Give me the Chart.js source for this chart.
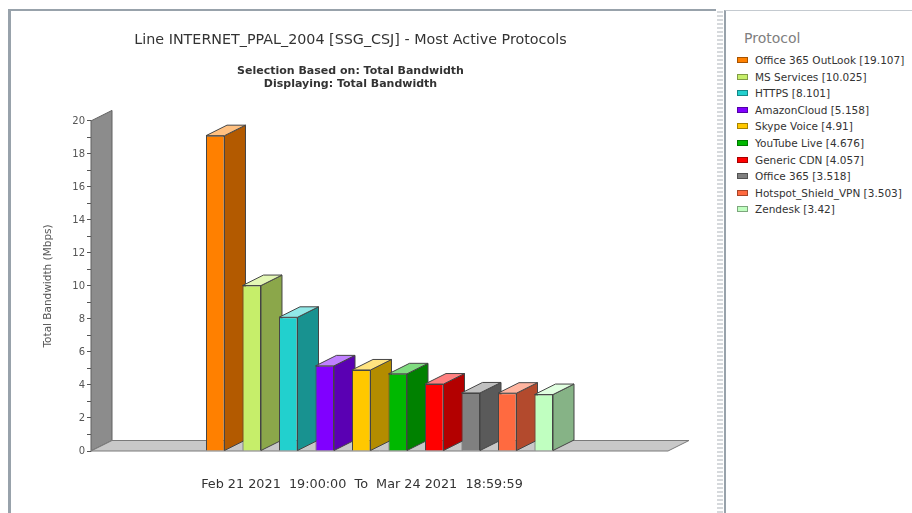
<!DOCTYPE html>
<html>
<head>
<meta charset="utf-8">
<title>Most Active Protocols</title>
<script src="https://cdn.jsdelivr.net/npm/chart.js@4.4.0/dist/chart.umd.min.js"></script>
<style>
    html, body { margin: 0; padding: 0; background: #fff; width: 912px; height: 513px; overflow: hidden; }
    body { position: relative; font-family: "DejaVu Sans", sans-serif; }
    #leftFrame { position: absolute; left: 8px; top: 9px; width: 705px; height: 504px; border-left: 3px solid #98a2ab; border-top: 2px solid #98a2ab; }
    #splitter { position: absolute; left: 717px; top: 10px; width: 6px; height: 503px;
        background-image: repeating-linear-gradient(0deg, #d6d9dc 0 2px, #fff 2px 4px); }
    #rightFrame { position: absolute; left: 724px; top: 10px; width: 188px; height: 503px; border-left: 2px solid #98a2ab; border-top: 1px solid #c4cad0; }
    #chartBox { position: absolute; left: 0; top: 0; width: 716px; height: 513px; }
    #dateRange { position: absolute; left: 0; width: 724px; top: 476px; text-align: center; white-space: pre;
        font: 12.8px/15px "DejaVu Sans", sans-serif; color: #333; }
    #legendTitle { position: absolute; left: 744px; top: 30px; font: 14px/16px "DejaVu Sans", sans-serif; color: #808080; }
    .lg-item { position: absolute; left: 737px; height: 14px; font: 10.5px/14px "DejaVu Sans", sans-serif; color: #333; white-space: nowrap; }
    .lg-sw { position: absolute; left: 0; top: 4px; width: 9px; height: 4px; border: 1px solid rgba(0,0,0,0.35); }
    .lg-tx { position: absolute; left: 18px; top: 0; }
</style>
</head>
<body>
<div id="leftFrame"></div>
<div id="splitter"></div>
<div id="rightFrame"></div>
<div id="chartBox"><canvas id="protoChart" width="716" height="513"></canvas></div>
<div id="dateRange">Feb 21 2021  19:00:00  To  Mar 24 2021  18:59:59</div>
<div id="legendTitle">Protocol</div>
<div id="legend"></div>

<script>
// ---------- Data ----------
var protocols = ["Office 365 OutLook", "MS Services", "HTTPS", "AmazonCloud", "Skype Voice",
                 "YouTube Live", "Generic CDN", "Office 365", "Hotspot_Shield_VPN", "Zendesk"];
var bandwidth = [19.107, 10.025, 8.101, 5.158, 4.91, 4.676, 4.057, 3.518, 3.503, 3.42];
var barColors = ["#ff8000", "#c6ee6a", "#22d0ce", "#8000ff", "#ffc800",
                 "#00b800", "#ff0000", "#808080", "#ff6a40", "#c0ffc0"];
var yTicks = [0, 2, 4, 6, 8, 10, 12, 14, 16, 18, 20];

(function () {
    "use strict";

    // ---------- Helpers for the 3D faces ----------
    function hexRgb(h) {
        return [parseInt(h.substr(1, 2), 16), parseInt(h.substr(3, 2), 16), parseInt(h.substr(5, 2), 16)];
    }
    function darker(h) {
        var c = hexRgb(h);
        return "rgb(" + Math.round(c[0] * 0.7) + "," + Math.round(c[1] * 0.7) + "," + Math.round(c[2] * 0.7) + ")";
    }
    function lighter(h) {
        var c = hexRgb(h);
        return "rgb(" + Math.round((c[0] + 255) / 2) + "," + Math.round((c[1] + 255) / 2) + "," + Math.round((c[2] + 255) / 2) + ")";
    }
    function poly(ctx, pts, fill, stroke) {
        ctx.beginPath();
        ctx.moveTo(pts[0][0], pts[0][1]);
        for (var i = 1; i < pts.length; i++) ctx.lineTo(pts[i][0], pts[i][1]);
        ctx.closePath();
        ctx.fillStyle = fill;
        ctx.fill();
        ctx.strokeStyle = stroke;
        ctx.lineWidth = 1;
        ctx.stroke();
    }

    var DX = 21, DY = 10.5;   // depth of the 3D effect
    var EDGE = "#454545";

    var bar3d = {
        id: "bar3d",
        beforeDatasetsDraw: function (chart) {
            var ctx = chart.ctx, a = chart.chartArea;
            ctx.save();
            // back wall + floor
            poly(ctx, [[a.left, a.bottom], [a.left, a.top], [a.left + DX, a.top - DY], [a.left + DX, a.bottom - DY]], "#8c8c8c", "#606060");
            poly(ctx, [[a.left, a.bottom], [a.right, a.bottom], [a.right + DX, a.bottom - DY], [a.left + DX, a.bottom - DY]], "#c8c8c8", "#7a7a7a");
            // side and top of each bar, front faces are drawn by Chart.js afterwards
            chart.data.datasets.forEach(function (ds, i) {
                var meta = chart.getDatasetMeta(i);
                meta.data.forEach(function (bar) {
                    var p = bar.getProps(["x", "y", "base", "width"], true);
                    var l = p.x - p.width / 2, r = p.x + p.width / 2;
                    poly(ctx, [[r, p.base], [r, p.y], [r + DX, p.y - DY], [r + DX, p.base - DY]], darker(ds.backgroundColor), EDGE);
                    poly(ctx, [[l, p.y], [r, p.y], [r + DX, p.y - DY], [l + DX, p.y - DY]], lighter(ds.backgroundColor), EDGE);
                });
            });
            ctx.restore();
        }
    };

    var datasets = protocols.map(function (name, i) {
        return {
            label: name,
            data: [bandwidth[i]],
            backgroundColor: barColors[i],
            borderColor: EDGE,
            borderWidth: 1,
            categoryPercentage: 0.6326,
            barPercentage: 0.507
        };
    });

    new Chart(document.getElementById("protoChart"), {
        type: "bar",
        data: { labels: [""], datasets: datasets },
        plugins: [bar3d],
        options: {
            responsive: false,
            animation: false,
            layout: { padding: { left: 33, right: 48, top: 0, bottom: 0 } },
            plugins: {
                legend: { display: false },
                tooltip: { enabled: false },
                title: {
                    display: true,
                    text: "Line INTERNET_PPAL_2004 [SSG_CSJ] - Most Active Protocols",
                    color: "#333",
                    font: { family: "DejaVu Sans", size: 14.3, weight: "normal", lineHeight: 1.2 },
                    padding: { top: 31.4, bottom: 15.9 }
                },
                subtitle: {
                    display: true,
                    text: ["Selection Based on: Total Bandwidth", "Displaying: Total Bandwidth"],
                    color: "#333",
                    font: { family: "DejaVu Sans", size: 11, weight: "bold", lineHeight: 1.18 },
                    padding: { top: 0, bottom: 30.5 }
                }
            },
            scales: {
                x: {
                    display: true,
                    ticks: { display: false },
                    grid: { display: false, drawTicks: false },
                    border: { display: false },
                    afterFit: function (s) { s.height = 62; }
                },
                y: {
                    min: yTicks[0],
                    max: yTicks[yTicks.length - 1],
                    afterFit: function (s) { s.width = 58; },
                    ticks: {
                        stepSize: 1,
                        autoSkip: false,
                        padding: 2,
                        color: "#555",
                        font: { family: "DejaVu Sans", size: 10 },
                        callback: function (v) { return yTicks.indexOf(v) >= 0 ? v : ""; }
                    },
                    grid: { drawOnChartArea: false, drawTicks: true, tickLength: 4, color: "#555" },
                    border: { display: false },
                    title: {
                        display: true,
                        text: "Total Bandwidth (Mbps)",
                        color: "#555",
                        font: { family: "DejaVu Sans", size: 10.5, weight: "normal" },
                        padding: { top: 8.5, bottom: 0 }
                    }
                }
            }
        }
    });

    // ---------- Legend panel ----------
    var legend = document.getElementById("legend");
    protocols.forEach(function (name, i) {
        var item = document.createElement("div");
        item.className = "lg-item";
        item.style.top = (53 + i * 16.6) + "px";
        var sw = document.createElement("span");
        sw.className = "lg-sw";
        sw.style.background = barColors[i];
        var tx = document.createElement("span");
        tx.className = "lg-tx";
        tx.textContent = name + " [" + bandwidth[i] + "]";
        item.appendChild(sw);
        item.appendChild(tx);
        legend.appendChild(item);
    });
})();
</script>
</body>
</html>
